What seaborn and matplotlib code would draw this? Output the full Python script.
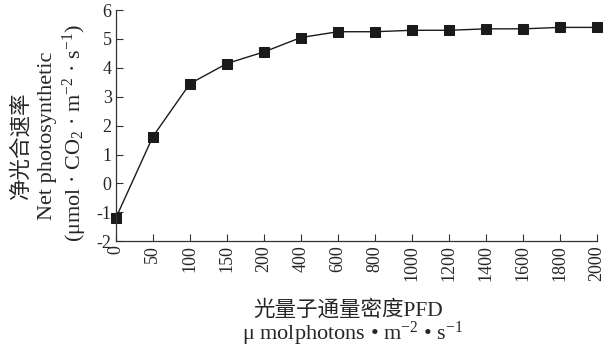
import matplotlib
matplotlib.use("Agg")
import matplotlib.pyplot as plt
import seaborn as sns
import pandas as pd

# PFD levels (categorical axis) and net photosynthetic rate
pfd_labels = ["0", "50", "100", "150", "200", "400", "600", "800",
              "1000", "1200", "1400", "1600", "1800", "2000"]
net_rate = [-1.2, 1.62, 3.45, 4.15, 4.55, 5.05, 5.25, 5.25,
            5.3, 5.3, 5.35, 5.35, 5.4, 5.4]
y_ticks = [-2, -1, 0, 1, 2, 3, 4, 5, 6]

sns.set_style("ticks")
plt.rcParams["font.family"] = ["Liberation Serif", "Noto Sans CJK SC", "DejaVu Sans"]
plt.rcParams["mathtext.fontset"] = "custom"
plt.rcParams["mathtext.rm"] = "Liberation Serif"
plt.rcParams["mathtext.it"] = "Liberation Serif:italic"

df = pd.DataFrame({"pfd": pfd_labels, "rate": net_rate})

fig = plt.figure(figsize=(6.13, 3.47), dpi=100)
ax = fig.add_axes([0.189, 0.305, 0.785, 0.666])

sns.pointplot(data=df, x="pfd", y="rate", order=pfd_labels, color="#1a1a1a",
              markers="s", markersize=6.5, linewidth=1.0, ax=ax)
for art in ax.lines + ax.collections:
    art.set_clip_on(False)

ax.set_xlim(0, len(pfd_labels) - 1)
ax.set_ylim(-2, 6)
ax.set_yticks(y_ticks)
ax.set_yticklabels([str(v) for v in y_ticks], fontsize=13)
ax.set_xticks(range(len(pfd_labels)))
ax.set_xticklabels(pfd_labels, rotation=90, fontsize=13)
ax.tick_params(direction="in", length=5, width=0.8, color="#333333", pad=3)
sns.despine(ax=ax)
for s in ["left", "bottom"]:
    ax.spines[s].set_linewidth(0.9)
    ax.spines[s].set_color("#333333")
ax.set_xlabel("")
ax.set_ylabel("")

# y label, three rotated lines
fig.text(21 / 613, 1 - 145 / 347, "净光合速率", rotation=90, ha="center", va="center", fontsize=15.5)
fig.text(48 / 613, 1 - 136 / 347, "Net photosynthetic", rotation=90, ha="center", va="center", fontsize=16)
fig.text(75 / 613, 1 - 133 / 347, r"(μmol · CO$_2$ · m$^{-2}$ · s$^{-1}$)",
         rotation=90, ha="center", va="center", fontsize=16)

# x label, two lines
fig.text(348 / 613, 1 - 310 / 347, "光量子通量密度PFD", ha="center", va="center", fontsize=15.5)
fig.text(353 / 613, 1 - 334 / 347, r"μ molphotons • m$^{-2}$ • s$^{-1}$",
         ha="center", va="center", fontsize=16)

fig.savefig("out.png", dpi=100)
